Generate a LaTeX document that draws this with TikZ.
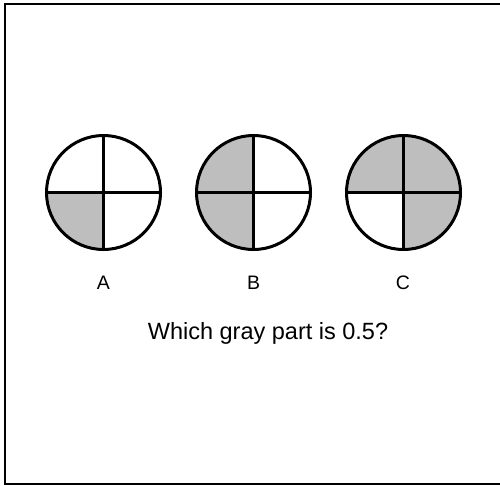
\documentclass[tikz,border=0pt]{standalone}
\usepackage{fontspec}
\setmainfont{Liberation Sans}
\begin{document}
\begin{tikzpicture}[x=1pt,y=-1pt,
  frame/.style={line width=2pt},
  rim/.style={line width=3pt},
  crossline/.style={line width=2.2pt},
  lbl/.style={font=\fontsize{19.5}{22}\selectfont, anchor=base, inner sep=0pt},
  question/.style={font=\fontsize{23.5}{27}\selectfont, anchor=base, inner sep=0pt}]
\definecolor{partgray}{RGB}{190,190,190}
\useasboundingbox (0,0) rectangle (500,485);
\draw[frame] (5,4) rectangle (503,484);
% circle A: lower-left
\coordinate (ca) at (103.5,192.5);
\fill[partgray] (ca) -- ++(-57,0) arc[start angle=180,end angle=90,radius=57] -- cycle;
% circle B: left half
\coordinate (cb) at (253.5,192.5);
\fill[partgray] (cb) ++(0,-57) arc[start angle=270,end angle=90,radius=57] -- cycle;
% circle C: top half and lower-right
\coordinate (cc) at (403.5,192.5);
\fill[partgray] (cc) ++(57,0) arc[start angle=0,end angle=-180,radius=57] -- cycle;
\fill[partgray] (cc) -- ++(57,0) arc[start angle=0,end angle=90,radius=57] -- cycle;
\foreach \c in {ca,cb,cc}{
  \draw[crossline] (\c) ++(-57,0) -- ++(114,0);
  \draw[crossline] (\c) ++(0,-57) -- ++(0,114);
  \draw[rim] (\c) circle[radius=57];
}
\node[lbl] (la) at (103.5,289) {A};
\node[lbl] (lb) at (253.5,289) {B};
\node[lbl] (lc) at (403,289) {C};
\node[question] (q) at (268,339) {Which gray part is 0.5?};
\end{tikzpicture}
\end{document}
